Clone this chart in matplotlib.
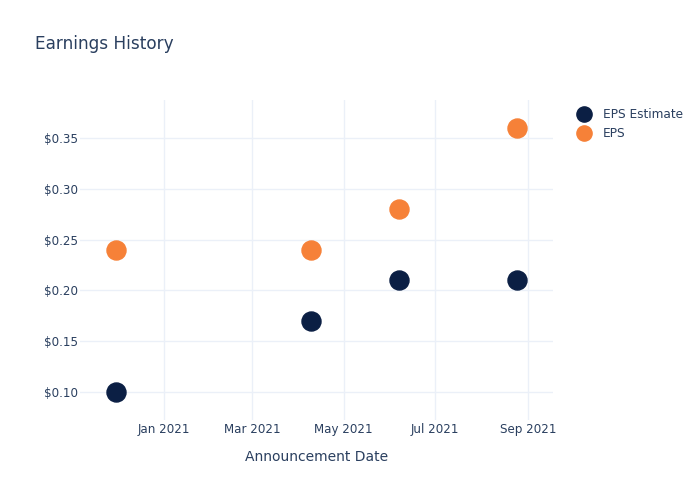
import numpy as np
import matplotlib.pyplot as plt
import matplotlib.dates as mdates

dates = np.array(["2020-11-30", "2021-04-09", "2021-06-07", "2021-08-25"], dtype="datetime64[D]")
eps_estimate = [0.10, 0.17, 0.21, 0.21]
eps_actual = [0.24, 0.24, 0.28, 0.36]

text_color = "#2a3f5f"
grid_color = "#ebf0f8"

fig = plt.figure(figsize=(7, 5), dpi=100)
ax = fig.add_axes([0.1143, 0.16, 0.676, 0.64])

ax.plot(dates, eps_estimate, "o", ms=13.7, color="#0b1f44", label="EPS Estimate", zorder=3)
ax.plot(dates, eps_actual, "o", ms=13.7, color="#f68138", label="EPS", zorder=3)

ax.set_xlim(np.datetime64("2020-11-06"), np.datetime64("2021-09-18"))
ax.set_ylim(0.0721, 0.3878)

ax.xaxis.set_major_locator(mdates.MonthLocator(bymonth=[1, 3, 5, 7, 9]))
ax.xaxis.set_major_formatter(mdates.DateFormatter("%b %Y"))
ax.set_yticks([0.10, 0.15, 0.20, 0.25, 0.30, 0.35])
ax.yaxis.set_major_formatter(plt.FuncFormatter(lambda v, p: f"${v:.2f}"))

ax.grid(True, color=grid_color, lw=1)
ax.set_axisbelow(True)
for s in ax.spines.values():
    s.set_visible(False)
ax.tick_params(length=0, labelsize=8.6, colors=text_color)
ax.tick_params(axis="y", pad=1.5)
ax.tick_params(axis="x", pad=2)

ax.set_xlabel("Announcement Date", fontsize=10, color=text_color, labelpad=10)
fig.text(0.05, 0.912, "Earnings History", fontsize=12.2, color=text_color, va="center")

ax.legend(loc="upper left", bbox_to_anchor=(0.81, 0.794), bbox_transform=fig.transFigure,
          frameon=False, fontsize=8.7, labelcolor=text_color, handletextpad=0.6,
          labelspacing=0.5, markerscale=0.8, borderaxespad=0)

fig.savefig("out.png", dpi=100)
